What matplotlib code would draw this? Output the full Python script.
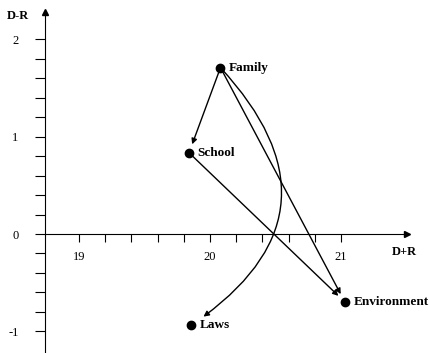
import matplotlib.pyplot as plt
import numpy as np

# node positions (D+R, D-R)
names = ['Family', 'School', 'Environment', 'Laws']
d_plus_r = [20.08, 19.84, 21.03, 19.855]
d_minus_r = [1.71, 0.835, -0.70, -0.94]

# cause -> effect links
links = [('Family', 'School'), ('Family', 'Environment'),
         ('School', 'Environment'), ('Family', 'Laws')]

xticks = np.round(np.arange(19, 21.01, 0.2), 1)
yticks = np.round(np.arange(-1, 2.01, 0.2), 1)

plt.rcParams['font.family'] = ['Liberation Serif', 'DejaVu Serif']

fig = plt.figure(figsize=(4.31, 3.53), dpi=100)
ax = fig.add_axes([0, 0, 1, 1])
ax.set_xlim(18.397, 21.687)
ax.set_ylim(-1.223, 2.405)

# axis lines
for s in ['top', 'right']:
    ax.spines[s].set_visible(False)
ax.spines['left'].set_position(('data', 18.74))
ax.spines['bottom'].set_position(('data', 0))
ax.spines['left'].set_bounds(-1.25, 2.28)
ax.spines['bottom'].set_bounds(18.74, 21.5)
ax.plot(21.5, 0, '>', color='k', ms=5, clip_on=False)
ax.plot(18.74, 2.28, '^', color='k', ms=5, clip_on=False)

ax.set_xticks(xticks)
ax.set_xticklabels([str(int(t)) if t == int(t) else '' for t in xticks])
ax.set_yticks(yticks)
ax.set_yticklabels([str(int(t)) if t == int(t) else '' for t in yticks])
ax.tick_params(axis='x', direction='out', length=5.5, pad=7, labelsize=9)
ax.tick_params(axis='y', direction='out', length=7, pad=12, labelsize=9)

ax.text(18.62, 2.24, 'D-R', fontsize=9, fontweight='bold', ha='right', va='center')
ax.text(21.48, -0.19, 'D+R', fontsize=9, fontweight='bold', ha='center', va='center')

ax.plot(d_plus_r, d_minus_r, 'o', color='k', ms=6)
for n, x, y in zip(names, d_plus_r, d_minus_r):
    ax.text(x + 0.065, y, n, fontsize=9.5, fontweight='bold', ha='left', va='center')

pos = {n: (x, y) for n, x, y in zip(names, d_plus_r, d_minus_r)}
for a, b in links:
    if b == 'Laws':
        cs, shrink = 'arc3,rad=-0.58', 11
    else:
        cs, shrink = 'arc3,rad=0', 6.5
    ax.annotate('', xy=pos[b], xytext=pos[a],
                arrowprops=dict(arrowstyle='-|>', color='k', lw=1,
                                mutation_scale=8, shrinkA=0, shrinkB=shrink,
                                connectionstyle=cs))

fig.savefig('out.png', dpi=100)
